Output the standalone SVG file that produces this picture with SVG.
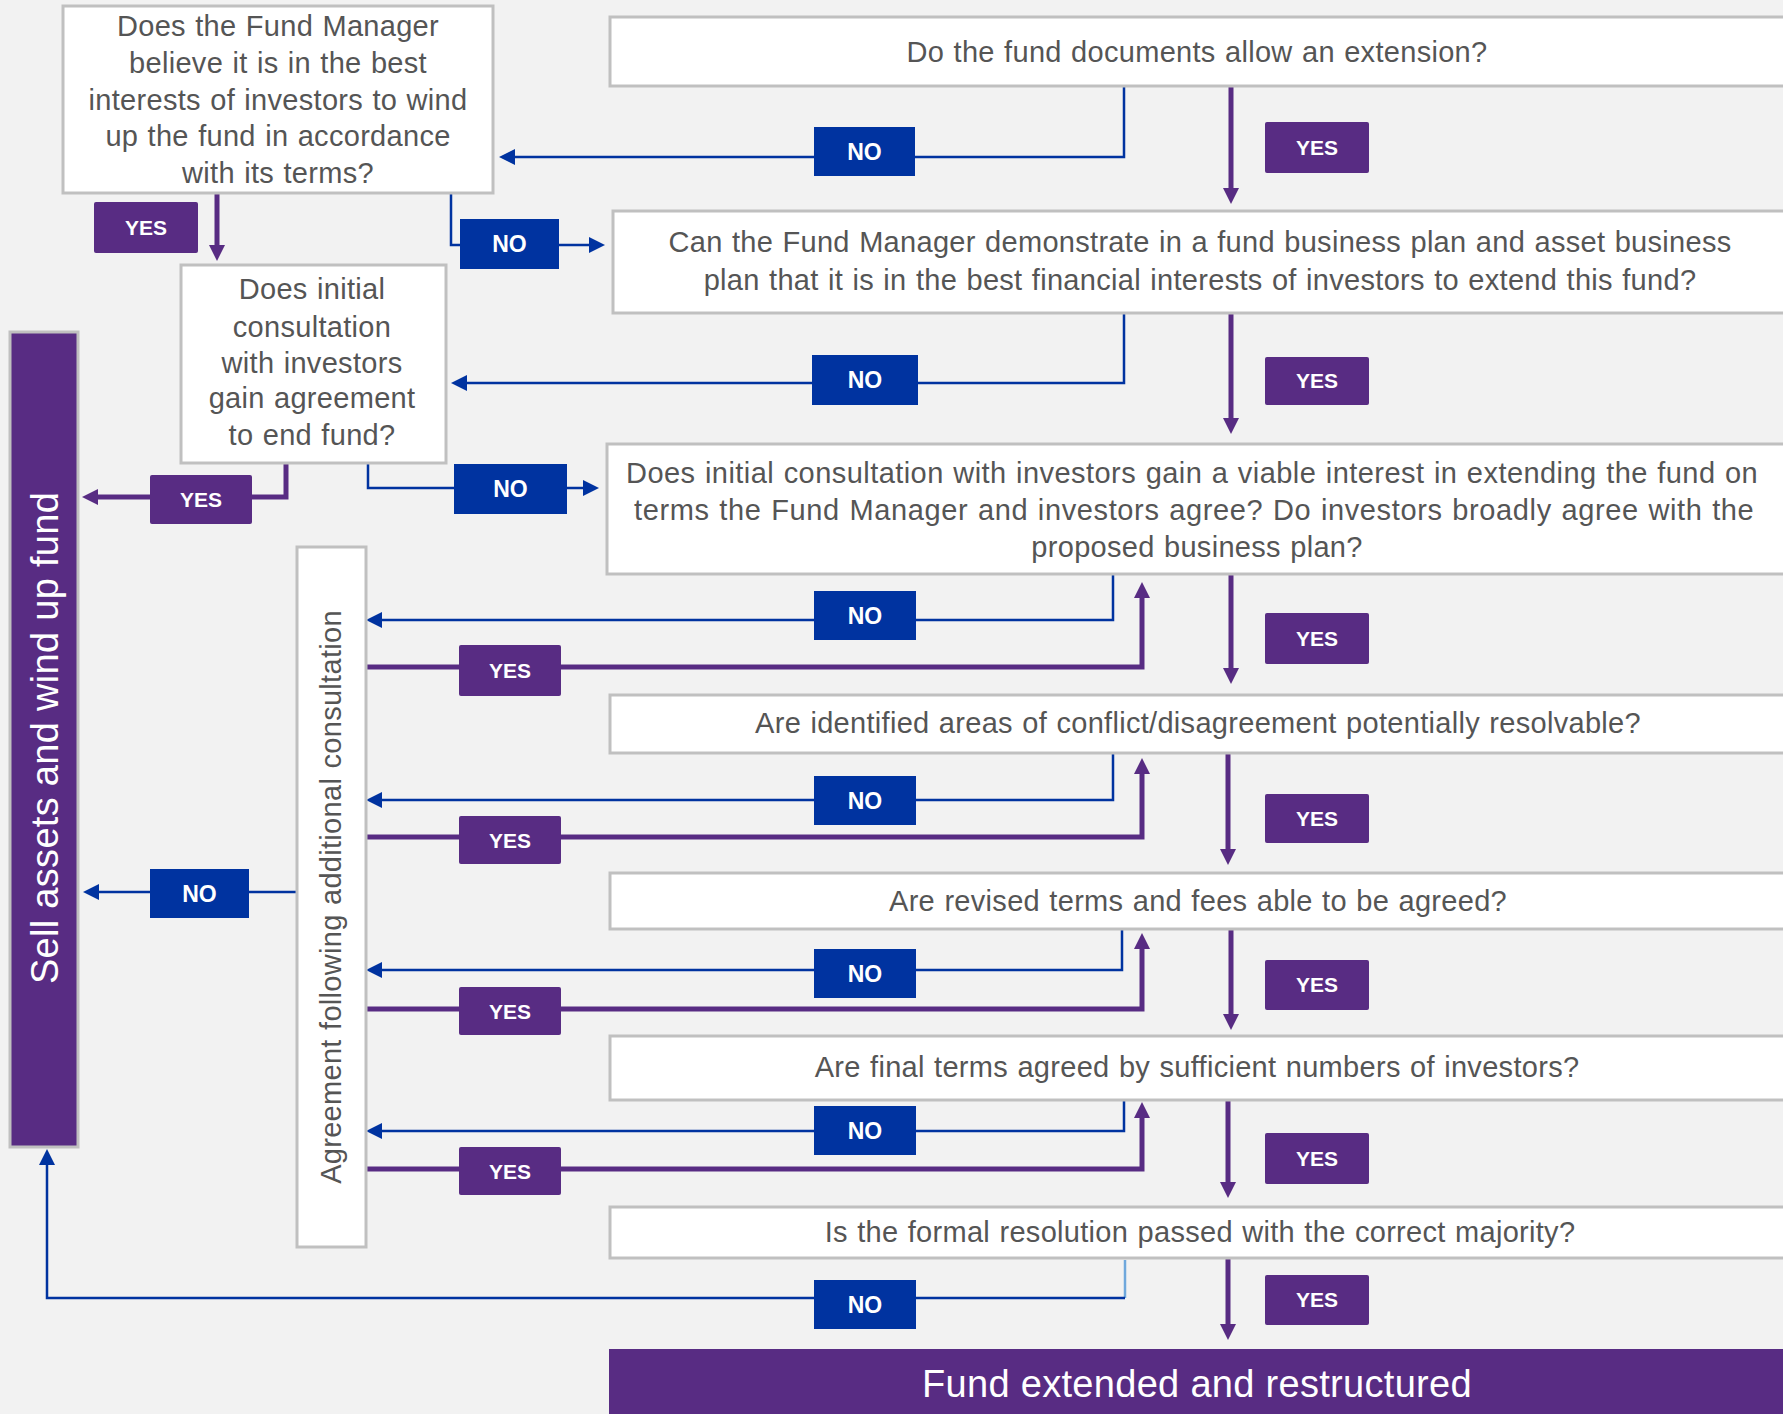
<svg xmlns="http://www.w3.org/2000/svg" width="1783" height="1414" viewBox="0 0 1783 1414">
<style>
.box{fill:#fff;stroke:#c0c0c0;stroke-width:3}
.t{font-family:"Liberation Sans",Arial,sans-serif;font-size:29px;fill:#555;text-anchor:middle;letter-spacing:0.3px;word-spacing:1px}
.no{fill:#0033a0}
.yes{fill:#582c83}
.nt{font-family:"Liberation Sans",Arial,sans-serif;font-weight:bold;font-size:23px;fill:#fff;text-anchor:middle}
.yt{font-family:"Liberation Sans",Arial,sans-serif;font-weight:bold;font-size:21px;fill:#fff;text-anchor:middle}
.big{font-family:"Liberation Sans",Arial,sans-serif;font-size:38px;fill:#fff;text-anchor:middle;letter-spacing:0.3px}
.cb{stroke:#0033a0;stroke-width:2.5;fill:none}
.cp{stroke:#582c83;stroke-width:5;fill:none}
</style>
<defs>
<marker id="mb" viewBox="0 0 16 16" refX="6" refY="8" markerWidth="16" markerHeight="16" markerUnits="userSpaceOnUse" orient="auto"><path d="M0,0L16,8L0,16z" fill="#0033a0"/></marker>
<marker id="mp" viewBox="0 0 16 16" refX="6" refY="8" markerWidth="16" markerHeight="16" markerUnits="userSpaceOnUse" orient="auto"><path d="M0,0L16,8L0,16z" fill="#582c83"/></marker>
</defs>
<rect width="1783" height="1414" fill="#f2f2f2"/>

<g id="connectors">
<path class="cb" d="M1124,86V157H509" marker-end="url(#mb)"/>
<path class="cb" d="M1124,313V383H461" marker-end="url(#mb)"/>
<path class="cb" d="M451,193V245H595" marker-end="url(#mb)"/>
<path class="cb" d="M368,463V488H589" marker-end="url(#mb)"/>
<path class="cb" d="M1113,574V620H376" marker-end="url(#mb)"/>
<path class="cb" d="M1113,753V800H376" marker-end="url(#mb)"/>
<path class="cb" d="M297,892H93" marker-end="url(#mb)"/>
<path class="cb" d="M1122,930V970H376" marker-end="url(#mb)"/>
<path class="cb" d="M1124,1100V1131H376" marker-end="url(#mb)"/>
<path d="M1125,1260V1298" stroke="#6fa8dc" stroke-width="2.5" fill="none"/>
<path class="cb" d="M1125,1298H47V1159" marker-end="url(#mb)"/>
<path class="cp" d="M217,193V251" marker-end="url(#mp)"/>
<path class="cp" d="M286,463V497H92" marker-end="url(#mp)"/>
<path class="cp" d="M1231,86V194" marker-end="url(#mp)"/>
<path class="cp" d="M1231,313V424" marker-end="url(#mp)"/>
<path class="cp" d="M1231,574V674" marker-end="url(#mp)"/>
<path class="cp" d="M1228,753V855" marker-end="url(#mp)"/>
<path class="cp" d="M1231,930V1020" marker-end="url(#mp)"/>
<path class="cp" d="M1228,1100V1188" marker-end="url(#mp)"/>
<path class="cp" d="M1228,1258V1330" marker-end="url(#mp)"/>
<path class="cp" d="M366,667H1142V592" marker-end="url(#mp)"/>
<path class="cp" d="M366,837H1142V768" marker-end="url(#mp)"/>
<path class="cp" d="M366,1009H1142V943" marker-end="url(#mp)"/>
<path class="cp" d="M366,1169H1142V1112" marker-end="url(#mp)"/>
</g>

<g id="n-wind-up">
<rect x="63" y="6" width="430" height="187" class="box"/>
<text class="t"><tspan x="278" y="36">Does the Fund Manager</tspan><tspan x="278" y="73">believe it is in the best</tspan><tspan x="278" y="110">interests of investors to wind</tspan><tspan x="278" y="146">up the fund in accordance</tspan><tspan x="278" y="183">with its terms?</tspan></text>
</g>
<g id="n-end-fund">
<rect x="181" y="265" width="265" height="198" class="box"/>
<text class="t"><tspan x="312" y="299">Does initial</tspan><tspan x="312" y="337">consultation</tspan><tspan x="312" y="373">with investors</tspan><tspan x="312" y="408">gain agreement</tspan><tspan x="312" y="445">to end fund?</tspan></text>
</g>
<g id="n-sell">
<rect x="10" y="332" width="68" height="815" fill="#582c83" stroke="#c0c0c0" stroke-width="3"/>
<text class="big" transform="translate(58,738) rotate(-90)">Sell assets and wind up fund</text>
</g>
<g id="n-additional">
<rect x="297" y="547" width="69" height="700" class="box"/>
<text class="t" transform="translate(341,897) rotate(-90)">Agreement following additional consultation</text>
</g>
<g id="n-docs">
<rect x="610" y="17" width="1190" height="69" class="box"/>
<text class="t" x="1197" y="62">Do the fund documents allow an extension?</text>
</g>
<g id="n-plan">
<rect x="613" y="211" width="1190" height="102" class="box"/>
<text class="t"><tspan x="1200" y="252">Can the Fund Manager demonstrate in a fund business plan and asset business</tspan><tspan x="1200" y="290">plan that it is in the best financial interests of investors to extend this fund?</tspan></text>
</g>
<g id="n-viable">
<rect x="607" y="444" width="1190" height="130" class="box"/>
<text class="t" x="1192" y="483" textLength="1132" lengthAdjust="spacing">Does initial consultation with investors gain a viable interest in extending the fund on</text>
<text class="t" x="1194" y="520" textLength="1120" lengthAdjust="spacing">terms the Fund Manager and investors agree? Do investors broadly agree with the</text>
<text class="t" x="1197" y="557">proposed business plan?</text>
</g>
<g id="n-conflict">
<rect x="610" y="695" width="1190" height="58" class="box"/>
<text class="t" x="1198" y="733">Are identified areas of conflict/disagreement potentially resolvable?</text>
</g>
<g id="n-revised">
<rect x="610" y="873" width="1190" height="56" class="box"/>
<text class="t" x="1198" y="911">Are revised terms and fees able to be agreed?</text>
</g>
<g id="n-final">
<rect x="610" y="1036" width="1190" height="64" class="box"/>
<text class="t" x="1197" y="1077">Are final terms agreed by sufficient numbers of investors?</text>
</g>
<g id="n-resolution">
<rect x="610" y="1207" width="1190" height="51" class="box"/>
<text class="t" x="1200" y="1242">Is the formal resolution passed with the correct majority?</text>
</g>
<g id="n-extended">
<rect x="609" y="1349" width="1180" height="70" fill="#582c83"/>
<text class="big" x="1197" y="1397">Fund extended and restructured</text>
</g>

<g id="labels">
<rect class="no" x="814" y="127" width="101" height="49"/><text class="nt" x="864.5" y="160">NO</text>
<rect class="no" x="460" y="219" width="99" height="50"/><text class="nt" x="509.5" y="252">NO</text>
<rect class="no" x="812" y="355" width="106" height="50"/><text class="nt" x="865" y="388">NO</text>
<rect class="no" x="454" y="464" width="113" height="50"/><text class="nt" x="510.5" y="497">NO</text>
<rect class="no" x="814" y="591" width="102" height="49"/><text class="nt" x="865" y="624">NO</text>
<rect class="no" x="814" y="776" width="102" height="49"/><text class="nt" x="865" y="809">NO</text>
<rect class="no" x="150" y="869" width="99" height="49"/><text class="nt" x="199.5" y="902">NO</text>
<rect class="no" x="814" y="949" width="102" height="49"/><text class="nt" x="865" y="982">NO</text>
<rect class="no" x="814" y="1106" width="102" height="49"/><text class="nt" x="865" y="1139">NO</text>
<rect class="no" x="814" y="1280" width="102" height="49"/><text class="nt" x="865" y="1313">NO</text>
<rect class="yes" x="1265" y="122" width="104" height="51" rx="2"/><text class="yt" x="1317" y="155">YES</text>
<rect class="yes" x="94" y="202" width="104" height="51" rx="2"/><text class="yt" x="146" y="235">YES</text>
<rect class="yes" x="1265" y="357" width="104" height="48" rx="2"/><text class="yt" x="1317" y="388">YES</text>
<rect class="yes" x="150" y="475" width="102" height="49" rx="2"/><text class="yt" x="201" y="507">YES</text>
<rect class="yes" x="1265" y="613" width="104" height="51" rx="2"/><text class="yt" x="1317" y="646">YES</text>
<rect class="yes" x="459" y="645" width="102" height="51" rx="2"/><text class="yt" x="510" y="678">YES</text>
<rect class="yes" x="1265" y="794" width="104" height="49" rx="2"/><text class="yt" x="1317" y="826">YES</text>
<rect class="yes" x="459" y="816" width="102" height="48" rx="2"/><text class="yt" x="510" y="848">YES</text>
<rect class="yes" x="1265" y="960" width="104" height="50" rx="2"/><text class="yt" x="1317" y="992">YES</text>
<rect class="yes" x="459" y="987" width="102" height="48" rx="2"/><text class="yt" x="510" y="1019">YES</text>
<rect class="yes" x="1265" y="1133" width="104" height="51" rx="2"/><text class="yt" x="1317" y="1166">YES</text>
<rect class="yes" x="459" y="1147" width="102" height="48" rx="2"/><text class="yt" x="510" y="1179">YES</text>
<rect class="yes" x="1265" y="1275" width="104" height="50" rx="2"/><text class="yt" x="1317" y="1307">YES</text>
</g>
</svg>
